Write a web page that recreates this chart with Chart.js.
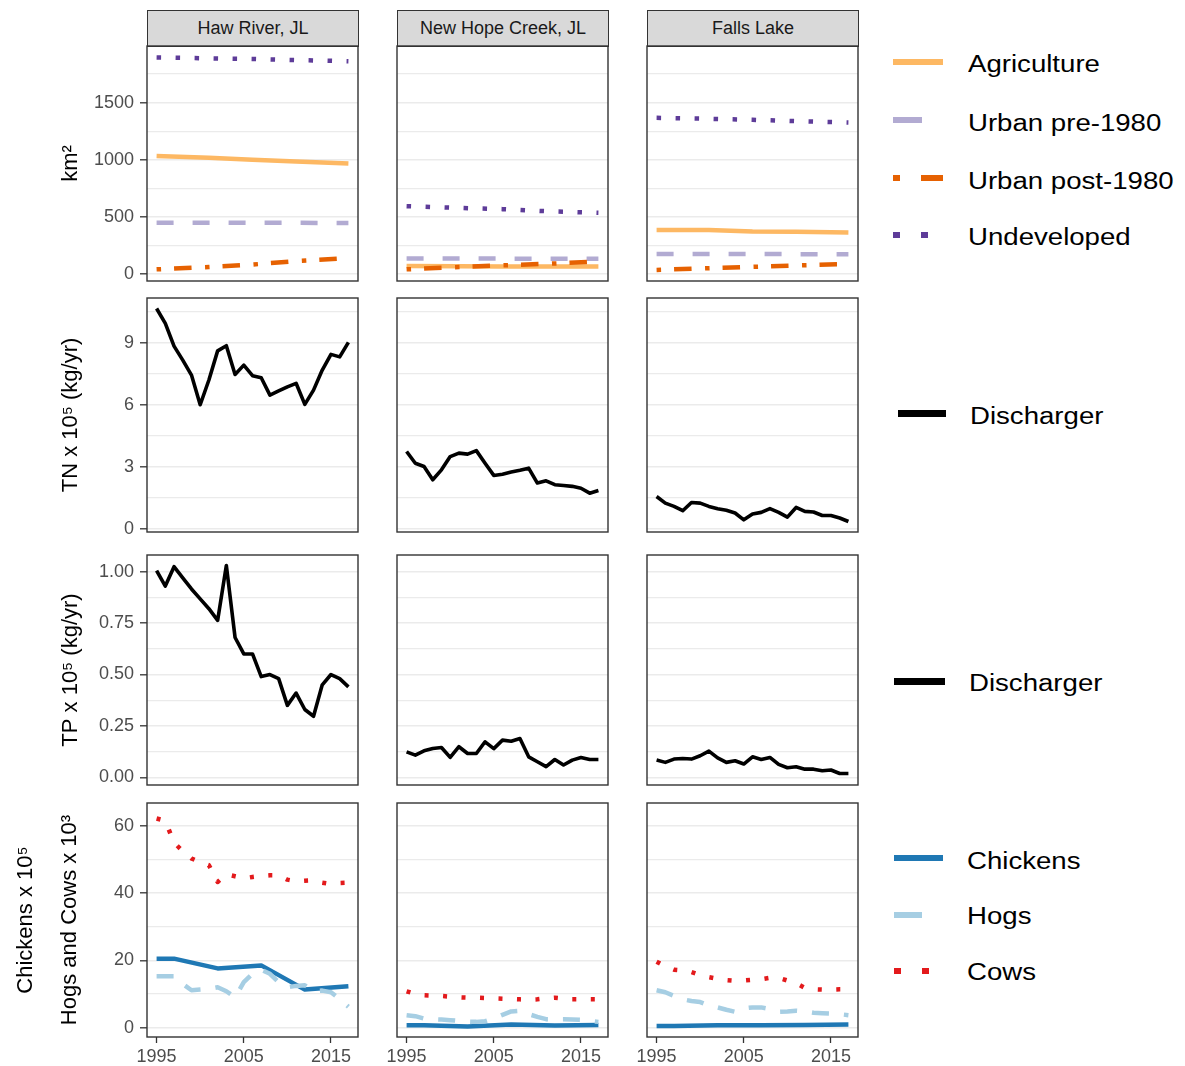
<!DOCTYPE html>
<html>
<head>
<meta charset="utf-8">
<title>Land use, nutrient discharge and livestock by watershed</title>
<script src="https://cdn.jsdelivr.net/npm/chart.js"></script>
<style>
  html, body { margin: 0; padding: 0; background: #ffffff; }
  body { width: 1185px; height: 1066px; position: relative; overflow: hidden;
         font-family: 'Liberation Sans', Arial, Helvetica, sans-serif; }
  .panel { position: absolute; }
  .strip { position: absolute; box-sizing: border-box; background: #D9D9D9;
           border: 1.3px solid #333333; color: #1a1a1a; font-size: 18px;
           text-align: center; line-height: 34px; }
  .key { position: absolute; }
  .lab { position: absolute; font-size: 23px; color: #000000; white-space: nowrap;
         height: 30px; line-height: 30px; transform: scaleX(1.2); transform-origin: left center; }
</style>
</head>
<body>
<script>
// ---------------- data ----------------
const sites = ['Haw River, JL', 'New Hope Creek, JL', 'Falls Lake'];

const years = [1995, 1996, 1997, 1998, 1999, 2000, 2001, 2002, 2003, 2004, 2005, 2006,
               2007, 2008, 2009, 2010, 2011, 2012, 2013, 2014, 2015, 2016, 2017];
const xTicks = [1995, 2005, 2015];

// land cover (km2)
const landYears = [1995, 2001, 2006, 2011, 2017];
const hawAgriculture = [1033, 1017, 1000, 985, 966];
const hawUrbanPre = [448, 448, 447, 447, 446];
const hawUrbanPost = [40, 60, 82, 112, 138];
const hawUndeveloped = [1895, 1887, 1881, 1872, 1862];
const nhAgriculture = [70, 68, 66, 65, 64];
const nhUrbanPre = [134, 134, 134, 133, 133];
const nhUrbanPost = [40, 60, 75, 88, 108];
const nhUndeveloped = [593, 578, 567, 549, 535];
const flAgriculture = [384, 384, 372, 370, 363];
const flUrbanPre = [174, 174, 174, 173, 173];
const flUrbanPost = [35, 50, 62, 74, 88];
const flUndeveloped = [1366, 1358, 1349, 1337, 1326];

// point-source total nitrogen (x 10^5 kg/yr)
const hawTN = [10.66, 9.94, 8.84, 8.16, 7.44, 6.00, 7.20, 8.61, 8.86, 7.47, 7.92, 7.41,
               7.31, 6.47, 6.67, 6.87, 7.04, 6.02, 6.71, 7.68, 8.44, 8.32, 9.02];
const nhTN = [3.74, 3.17, 3.01, 2.37, 2.85, 3.49, 3.66, 3.61, 3.78, 3.17, 2.58, 2.64,
              2.74, 2.83, 2.93, 2.21, 2.32, 2.13, 2.09, 2.05, 1.96, 1.72, 1.85];
const flTN = [1.56, 1.24, 1.08, 0.87, 1.27, 1.24, 1.08, 0.97, 0.89, 0.76, 0.43, 0.71,
              0.79, 0.97, 0.79, 0.56, 1.03, 0.84, 0.81, 0.64, 0.64, 0.52, 0.35];

// point-source total phosphorus (x 10^5 kg/yr)
const hawTP = [1.005, 0.93, 1.024, 0.97, 0.916, 0.868, 0.82, 0.763, 1.03, 0.68, 0.60, 0.60,
               0.49, 0.50, 0.48, 0.35, 0.41, 0.33, 0.297, 0.45, 0.50, 0.48, 0.44];
const nhTP = [0.124, 0.108, 0.129, 0.140, 0.145, 0.097, 0.149, 0.116, 0.116, 0.173, 0.140, 0.181,
              0.176, 0.189, 0.100, 0.076, 0.052, 0.087, 0.060, 0.084, 0.097, 0.087, 0.087];
const flTP = [0.084, 0.073, 0.089, 0.092, 0.089, 0.105, 0.128, 0.095, 0.073, 0.081, 0.065, 0.100,
              0.087, 0.097, 0.063, 0.047, 0.052, 0.040, 0.040, 0.032, 0.036, 0.019, 0.019];

// livestock: chickens x 10^5, hogs and cows x 10^3
const censusYears = [1995, 1997, 2002, 2007, 2012, 2017];
const hawChickens = [20.5, 20.5, 17.6, 18.5, 11.3, 12.3];
const nhChickens = [0.7, 0.7, 0.3, 0.9, 0.6, 0.8];
const flChickens = [0.5, 0.5, 0.7, 0.7, 0.8, 0.9];
const hawHogs = [15.3, 15.3, 15.3, 13.0, 11.1, 11.3, 11.5, 12.0, 10.8, 9.0, 13.5, 16.0,
                 17.2, 16.0, 13.5, 12.0, 12.4, 12.6, 10.8, 11.0, 10.5, 8.5, 6.2];
const nhHogs = [3.7, 3.4, 2.7, 2.5, 2.4, 2.2, 2.0, 1.8, 1.7, 1.9, 2.7, 3.8,
                4.8, 5.0, 4.0, 3.2, 2.5, 2.5, 2.5, 2.4, 2.3, 2.0, 1.7];
const flHogs = [11.1, 10.5, 9.4, 8.4, 7.9, 7.6, 6.6, 6.0, 5.3, 4.7, 5.7, 6.0,
                6.0, 5.5, 4.7, 4.8, 5.0, 4.8, 4.4, 4.3, 4.2, 4.0, 3.7];
const hawCows = [62.2, 61.5, 55.0, 52.5, 50.3, 49.2, 48.3, 43.3, 45.6, 45.0, 44.4, 44.8,
                 45.1, 45.3, 45.3, 44.0, 43.5, 43.7, 43.8, 43.1, 42.7, 43.0, 43.1];
const nhCows = [10.8, 10.0, 9.6, 9.5, 9.4, 9.2, 9.0, 8.9, 8.9, 8.8, 8.7, 8.6,
                8.5, 8.4, 8.3, 8.4, 8.7, 8.9, 8.6, 8.4, 8.4, 8.4, 8.4];
const flCows = [19.6, 18.2, 17.2, 17.0, 16.5, 15.6, 15.0, 14.5, 14.1, 13.9, 14.0, 14.2,
                14.4, 14.8, 14.8, 14.0, 13.2, 11.8, 11.4, 11.3, 11.3, 11.4, 11.4];

// y-axis breaks per row (grid lines) and the labelled ones
const landGrid = [0, 250, 500, 750, 1000, 1250, 1500, 1750];
const landMajor = [0, 500, 1000, 1500];
const tnGrid = [0, 1.5, 3, 4.5, 6, 7.5, 9, 10.5];
const tnMajor = [0, 3, 6, 9];
const tpGrid = [0, 0.125, 0.25, 0.375, 0.5, 0.625, 0.75, 0.875, 1];
const tpMajor = [0, 0.25, 0.5, 0.75, 1];
const stockGrid = [0, 10, 20, 30, 40, 50, 60];
const stockMajor = [0, 20, 40, 60];

// ---------------- layout ----------------
const FONT = "'Liberation Sans', Arial, Helvetica, sans-serif";
Chart.defaults.font.family = FONT;

const colLeft = [147, 397, 647];
const colRight = [358, 608, 858];
const rowTop = [46, 298, 555, 803];
const rowBottom = [281, 532, 785, 1037];
const M = 24;                 // spare canvas margin around each panel
const xMin = 1993.9, xMax = 2018.1;

const rowAxes = [
  { min: -62, max: 1995, grid: landGrid, major: landMajor, fmt: v => String(v),
    title: 'km\u00B2', titleFont: { size: 22, lineHeight: 1.2 }, titlePad: 57.8 },
  { min: -0.16, max: 11.17, grid: tnGrid, major: tnMajor, fmt: v => String(v),
    title: 'TN x 10\u2075 (kg/yr)', titleFont: { size: 22, lineHeight: 1.2 }, titlePad: 57.8 },
  { min: -0.037, max: 1.081, grid: tpGrid, major: tpMajor, fmt: v => v.toFixed(2),
    title: 'TP x 10\u2075 (kg/yr)', titleFont: { size: 22, lineHeight: 1.2 }, titlePad: 57.8 },
  { min: -2.8, max: 66.8, grid: stockGrid, major: stockMajor, fmt: v => String(v),
    title: ['Chickens x 10\u2075', 'Hogs and Cows x 10\u00B3'], titleFont: { size: 22, lineHeight: 2 }, titlePad: 4 }
];

// dark frame around every panel
const panelFrame = {
  id: 'panelFrame',
  afterDatasetsDraw(chart) {
    const { ctx, chartArea: a } = chart;
    ctx.save();
    ctx.strokeStyle = '#333333';
    ctx.lineWidth = 1.4;
    ctx.strokeRect(a.left, a.top, a.right - a.left, a.bottom - a.top);
    ctx.restore();
  }
};

function series(xs, ys, label, color, width, dash) {
  return {
    label,
    data: xs.map((x, i) => ({ x: x, y: ys[i] })),
    borderColor: color,
    backgroundColor: color,
    borderWidth: width,
    borderDash: dash,
    borderCapStyle: 'butt',
    borderJoinStyle: 'round',
    pointRadius: 0,
    pointHoverRadius: 0,
    tension: 0,
    fill: false
  };
}

const DOT = [4.5, 14.5];
const DASH = [17, 19];
const DOTDASH = [4.5, 13, 17.5, 13.5];

function landSets(ag, pre, post, und) {
  return [
    series(landYears, ag, 'Agriculture', '#FDB863', 4.5, []),
    series(landYears, pre, 'Urban pre-1980', '#B2ABD2', 4.5, DASH),
    series(landYears, post, 'Urban post-1980', '#E66101', 4.5, DOTDASH),
    series(landYears, und, 'Undeveloped', '#5E3C99', 4.5, DOT)
  ];
}
function dischargeSets(vals) {
  return [series(years, vals, 'Discharger', '#000000', 3.6, [])];
}
function stockSets(ch, hog, cow) {
  return [
    series(censusYears, ch, 'Chickens', '#1F78B4', 4.5, []),
    series(years, hog, 'Hogs', '#A6CEE3', 4.5, [17, 15]),
    series(years, cow, 'Cows', '#E31A1C', 4.5, [4, 14.5])
  ];
}

const panelData = [
  [landSets(hawAgriculture, hawUrbanPre, hawUrbanPost, hawUndeveloped),
   landSets(nhAgriculture, nhUrbanPre, nhUrbanPost, nhUndeveloped),
   landSets(flAgriculture, flUrbanPre, flUrbanPost, flUndeveloped)],
  [dischargeSets(hawTN), dischargeSets(nhTN), dischargeSets(flTN)],
  [dischargeSets(hawTP), dischargeSets(nhTP), dischargeSets(flTP)],
  [stockSets(hawChickens, hawHogs, hawCows), stockSets(nhChickens, nhHogs, nhCows),
   stockSets(flChickens, flHogs, flCows)]
];

function makePanel(r, c, datasets) {
  const ax = rowAxes[r];
  const L = colLeft[c], R = colRight[c], T = rowTop[r], B = rowBottom[r];
  const left = c === 0 ? 0 : L - M;
  const top = T - M;
  const right = R + M;
  const bottom = r === 3 ? 1066 : B + M;

  const wrap = document.createElement('div');
  wrap.className = 'panel';
  wrap.style.left = left + 'px';
  wrap.style.top = top + 'px';
  wrap.style.width = (right - left) + 'px';
  wrap.style.height = (bottom - top) + 'px';
  const cv = document.createElement('canvas');
  cv.width = right - left;
  cv.height = bottom - top;
  cv.style.width = (right - left) + 'px';
  cv.style.height = (bottom - top) + 'px';
  wrap.appendChild(cv);
  document.body.appendChild(wrap);

  // later series are painted on top
  datasets.forEach((d, i) => { d.order = datasets.length - 1 - i; });
  const isMajor = v => ax.major.indexOf(v) !== -1;
  const xHeight = r === 3 ? 1066 - B : 0;
  const yWidth = c === 0 ? L : 0;

  new Chart(cv, {
    type: 'line',
    data: { datasets },
    options: {
      responsive: false,
      animation: false,
      events: [],
      layout: { padding: { left: c === 0 ? 0 : M, top: M, right: M, bottom: r === 3 ? 0 : M } },
      plugins: { legend: { display: false }, tooltip: { enabled: false } },
      scales: {
        x: {
          type: 'linear', min: xMin, max: xMax, display: r === 3,
          afterBuildTicks: s => { s.ticks = xTicks.map(v => ({ value: v })); },
          afterFit: s => { s.height = xHeight; },
          grid: { display: true, drawOnChartArea: false, drawTicks: true, tickLength: 6,
                  tickColor: '#333333', tickWidth: 1.3 },
          border: { display: false },
          ticks: { autoSkip: false, maxRotation: 0, padding: 3, color: '#4d4d4d',
                   font: { size: 18 }, callback: v => String(v) }
        },
        y: {
          type: 'linear', min: ax.min, max: ax.max,
          afterBuildTicks: s => { s.ticks = ax.grid.map(v => ({ value: v })); },
          afterFit: s => { s.width = yWidth; },
          grid: {
            color: '#EBEBEB',
            lineWidth: ctx => (ctx.tick && isMajor(ctx.tick.value)) ? 1.6 : 1.2,
            drawTicks: c === 0, tickLength: 7,
            tickColor: ctx => (ctx.tick && isMajor(ctx.tick.value)) ? '#333333' : 'rgba(0,0,0,0)',
            tickWidth: 1.3
          },
          border: { display: false },
          ticks: { display: c === 0, autoSkip: false, padding: 6, color: '#4d4d4d',
                   font: { size: 18 }, callback: v => isMajor(v) ? ax.fmt(v) : '' },
          title: { display: c === 0, text: ax.title, color: '#000000', font: ax.titleFont,
                   padding: { top: ax.titlePad, bottom: 0 } }
        }
      }
    },
    plugins: [panelFrame]
  });
}

// facet strips
sites.forEach((name, c) => {
  const s = document.createElement('div');
  s.className = 'strip';
  s.style.left = colLeft[c] + 'px';
  s.style.top = '10px';
  s.style.width = (colRight[c] - colLeft[c] + 1) + 'px';
  s.style.height = '37px';
  s.textContent = name;
  document.body.appendChild(s);
});

for (let r = 0; r < 4; r++) {
  for (let c = 0; c < 3; c++) makePanel(r, c, panelData[r][c]);
}

// legends: one per row
const legendRows = [
  { label: 'Agriculture', color: '#FDB863', keyY: 62, h: 5.5, segs: [[893, 50]], tx: 968, ty: 64 },
  { label: 'Urban pre-1980', color: '#B2ABD2', keyY: 120, h: 5.5, segs: [[893, 29]], tx: 968, ty: 123 },
  { label: 'Urban post-1980', color: '#E66101', keyY: 178, h: 5.5, segs: [[893, 7], [921, 22]], tx: 968, ty: 180.5 },
  { label: 'Undeveloped', color: '#5E3C99', keyY: 235, h: 5.5, segs: [[893, 7], [921, 7]], tx: 968, ty: 237 },
  { label: 'Discharger', color: '#000000', keyY: 413, h: 7, segs: [[898, 48]], tx: 970, ty: 416 },
  { label: 'Discharger', color: '#000000', keyY: 681.5, h: 7, segs: [[894, 51]], tx: 969, ty: 683 },
  { label: 'Chickens', color: '#1F78B4', keyY: 858, h: 5.5, segs: [[894, 49]], tx: 967, ty: 860.5 },
  { label: 'Hogs', color: '#A6CEE3', keyY: 915, h: 5.5, segs: [[894, 28]], tx: 967, ty: 916 },
  { label: 'Cows', color: '#E31A1C', keyY: 971, h: 5.5, segs: [[894, 7], [922, 7]], tx: 967, ty: 972 }
];
legendRows.forEach(item => {
  item.segs.forEach(([x, w]) => {
    const k = document.createElement('div');
    k.className = 'key';
    k.style.left = x + 'px';
    k.style.top = (item.keyY - item.h / 2) + 'px';
    k.style.width = w + 'px';
    k.style.height = item.h + 'px';
    k.style.background = item.color;
    document.body.appendChild(k);
  });
  const t = document.createElement('div');
  t.className = 'lab';
  t.style.left = item.tx + 'px';
  t.style.top = (item.ty - 14.7) + 'px';
  t.textContent = item.label;
  document.body.appendChild(t);
});
</script>
</body>
</html>
